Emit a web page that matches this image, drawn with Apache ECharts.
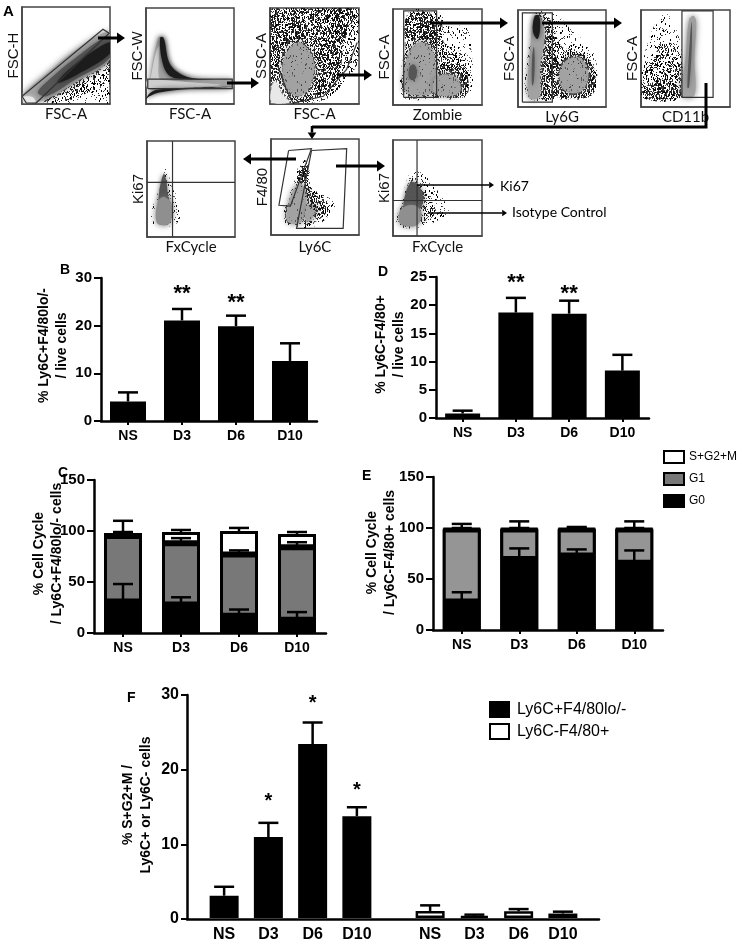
<!DOCTYPE html>
<html><head><meta charset="utf-8">
<script src="https://cdn.jsdelivr.net/npm/echarts@6/dist/echarts.min.js"></script>
<style>html,body{margin:0;padding:0;background:#fff}#c{width:750px;height:943px}</style>
</head><body><div id="c"></div>
<script>
// ---------- data: bar panels ----------
const days = ['NS','D3','D6','D10'];
const bValues = [4.1,21.1,19.9,12.6];
const bCaps   = [6.0,23.5,22.1,16.3];
const bStars  = ['','**','**',''];
const bStarY  = [0,27.3,25.4,0];
const dValues = [0.8,18.7,18.5,8.4];
const dCaps   = [1.3,21.3,20.8,11.2];
const dStars  = ['','**','**',''];
const dStarY  = [0,24.5,22.6,0];
const cG0 = [31,28,17,13];
const cG1 = [64,60,60,71];
const cS  = [3,11,23,13];
const cG0Caps = [48,35,23,20.5];
const cG1Caps = [99,93,81,89];
const cSCaps  = [110,101,103,99];
const eG0 = [28,69.5,73,66];
const eG1 = [70.5,29,25.5,32.5];
const eS  = [1,1,1,1];
const eG0Caps = [37,80,79,78];
const eG1Caps = [100,100,100,100];
const eSCaps  = [104,106.5,101,106.5];
const fBlack = [3.0,10.9,23.4,13.7];
const fBlackCaps = [4.2,12.8,26.3,14.9];
const fWhite = [0.95,0.25,0.9,0.6];
const fWhiteCaps = [1.7,0.45,1.2,0.85];
const fStars = ['','*','*','*'];
const fStarY = [0,16.1,29.2,17.6];

// ---------- data: flow panels (regions in % of each plot) ----------
const p1Regions = [
 ['s',[[24,2],[55,28],[100,60],[100,2]]],
 ['m',[[24,2],[60,22],[100,46],[100,26],[60,6],[36,2]]],
 ['h',[[0,8],[30,33],[60,55],[100,74],[100,46],[60,22],[28,5],[6,2]]],
 ['q',[[18,12],[32,26],[60,47],[100,70],[100,48],[60,25],[28,8]]],
 ['k',[[40,22],[62,42],[100,64],[100,52],[62,30]]],
 ['w',[[1,7],[12,7],[15,2],[4,1]]]
];
const p1Gates = [[[0,8],[92,77],[99,73],[16,1],[5,1],[0,8]]];
const p2Regions = [
 ['h',[[5,15],[5,28],[14,69],[20,69],[27,42],[42,30],[60,26],[98,25],[98,17],[46,16]]],
 ['l',[[5,20],[6,30],[11,52],[15,60],[14,30],[18,20]]],
 ['k',[[16,69],[20,69],[27,42],[42,30],[60,26],[80,25],[42,26],[26,30],[18,46]]],
 ['l',[[2,17],[2,25],[30,24],[60,22],[85,20],[60,18],[30,17]]],
 ['k',[[0,5],[4,11],[14,15],[50,17],[98,18],[50,15.5],[15,12],[4,8]]]
];
const p2Gates = [[[2,16],[98,16],[98,26],[2,26],[2,16]]];
const p3Regions = [
 ['m',[[1,2],[1,99],[99,99],[99,45],[88,28],[65,6],[40,1]]],
 ['d',[[2,8],[2,99],[92,99],[82,60],[78,32],[60,10],[36,2]]],
 ['d',[[3,10],[4,98],[48,98],[66,74],[70,34],[56,8],[30,2]]],
 ['h',[[18,18],[14,40],[22,58],[34,64],[46,52],[50,34],[42,14],[30,8]]],
 ['n',[[16,16],[12,40],[20,60],[34,66],[48,54],[52,34],[44,12],[30,6]]],
 ['w',[[2,2],[2,18],[6,24],[14,10],[22,2]]]
];
const p3Gates = [[[9,39],[18,16],[26,1],[60,8],[86,36],[98,64]]];
const p4Regions = [
 ['s',[[11,9],[60,8],[86,10],[90,30],[88,58],[84,82],[62,82],[52,96],[18,97],[13,60]]],
 ['m',[[13,10],[48,9],[80,10],[84,30],[78,52],[58,64],[52,92],[18,95],[14,60]]],
 ['d',[[15,66],[17,94],[48,92],[52,62],[30,70]]],
 ['d',[[48,9],[82,10],[84,30],[76,42],[54,40]]],
 ['h',[[14,14],[13,36],[20,58],[32,66],[44,58],[48,36],[46,14],[30,10]]],
 ['h',[[47,12],[46,26],[58,32],[72,28],[76,16],[68,10]]],
 ['n',[[13,12],[12,36],[20,60],[32,68],[46,60],[50,36],[48,12],[30,8]]],
 ['n',[[46,10],[45,26],[58,34],[72,30],[78,16],[68,8]]],
 ['q',[[18,28],[19,40],[24,42],[27,34],[24,26]]]
];
const p4Gates = [[[12,8],[49,8],[49,98],[12,98],[12,8]]];
const p5Regions = [
 ['s',[[12,10],[60,9],[85,14],[90,34],[84,60],[62,78],[45,94],[25,98],[12,60]]],
 ['m',[[18,10],[44,10],[84,12],[86,42],[70,58],[50,62],[35,92],[20,96]]],
 ['d',[[26,10],[44,10],[50,30],[42,56],[33,86],[28,50]]],
 ['d',[[44,12],[84,12],[84,44],[70,54],[52,50]]],
 ['h',[[12,10],[24,10],[25,40],[30,72],[26,92],[19,92],[14,60]]],
 ['h',[[50,20],[48,38],[58,50],[72,50],[80,34],[74,18],[62,14]]],
 ['n',[[48,18],[46,38],[58,52],[72,52],[82,34],[76,16],[62,12]]],
 ['q',[[16,50],[18,62],[19,50],[18,26],[16,22]]],
 ['k',[[17,78],[19,94],[24,94],[25,80],[22,70]]]
];
const p5Gates = [[[5,5],[39,5],[39,97],[5,97],[5,5]]];
const p6Regions = [
 ['s',[[1,10],[46,10],[46,55],[38,84],[28,96],[15,84],[3,50],[0,25]]],
 ['m',[[1,10],[46,10],[44,50],[33,66],[20,60],[4,35]]],
 ['d',[[1,10],[46,10],[44,22],[24,28],[4,20]]],
 ['h',[[46,12],[60,12],[60,50],[62,88],[59,94],[54,90],[50,50]]],
 ['q',[[52,20],[54,20],[57,60],[57,88],[55,70]]]
];
const p6Gates = [[[46,10],[81,10],[81,99],[46,99],[46,10]]];
const p7Regions = [
 ['s',[[8,13],[30,12],[38,22],[34,42],[28,52],[22,72],[15,52],[5,25]]],
 ['q',[[14,34],[14,48],[19,66],[22,58],[24,42],[27,32],[20,36]]],
 ['g',[[11,15],[12,36],[19,42],[28,34],[27,16],[20,12]]]
];
const p7Gates = [[[29,0],[29,100]],[[0,57],[100,57]]];
const p8Regions = [
 ['s',[[34,78],[44,74],[46,50],[70,36],[72,28],[52,10],[18,9],[12,18],[20,40],[28,60]]],
 ['m',[[36,76],[43,72],[44,50],[66,34],[66,26],[46,12],[20,12],[16,20],[26,50]]],
 ['h',[[18,15],[24,44],[33,54],[40,44],[38,22],[32,12]]],
 ['h',[[40,14],[40,30],[52,30],[46,16]]],
 ['n',[[16,13],[23,46],[33,56],[41,46],[54,32],[48,14],[32,10]]],
 ['d',[[36,72],[41,70],[42,50],[60,34],[62,28],[46,26],[38,50],[30,58]]]
];
const p8Gates = [[[20,88],[46,90],[22,30],[9,31],[20,88]],[[46,88],[86,90],[82,7],[29,7],[46,88]]];
const p9Regions = [
 ['s',[[5,11],[30,9],[62,24],[58,36],[46,52],[32,66],[20,66],[13,50],[7,30]]],
 ['m',[[8,14],[30,14],[48,24],[40,42],[30,58],[20,60],[14,44]]],
 ['q',[[12,30],[14,44],[20,56],[27,54],[34,42],[30,28],[18,26]]],
 ['g',[[7,14],[9,28],[24,32],[32,24],[28,12],[16,10]]]
];
const p9Gates = [[[27,0],[27,100]],[[0,37],[100,37]]];

// ---------- style helpers ----------
function stipple(count, colors, seed) {
  // fixed speckle texture for the flow-plot clouds
  let a = seed;
  function next() { a = (a + 0x6D2B79F5) | 0; let t = Math.imul(a ^ (a >>> 15), 1 | a); t = (t + Math.imul(t ^ (t >>> 7), 61 | t)) ^ t; return ((t ^ (t >>> 14)) >>> 0) / 4294967296; }
  const c = document.createElement('canvas'); c.width = c.height = 128;
  const g = c.getContext('2d');
  for (let i = 0; i < count; i++) {
    g.fillStyle = colors[i % colors.length];
    g.fillRect(Math.floor(next() * 128), Math.floor(next() * 128), 1, 1 + (i % 3 === 0 ? 1 : 0));
  }
  return { image: c, repeat: 'repeat' };
}
const fills = {
  s: { fill: stipple(1800, ['#000','#222','#555'], 11) },
  m: { fill: stipple(3800, ['#000','#333'], 23) },
  d: { fill: stipple(6000, ['#111','#333','#444'], 37) },
  n: { fill: stipple(1000, ['#555','#777','#333'], 51) },
  g: { fill: '#8f8f8f', shadowBlur: 6, shadowColor: '#777' },
  h: { fill: '#a2a2a2', shadowBlur: 6, shadowColor: '#777' },
  l: { fill: '#cfcfcf', shadowBlur: 2, shadowColor: '#bbb' },
  q: { fill: '#555', shadowBlur: 5, shadowColor: '#666' },
  k: { fill: '#1c1c1c', shadowBlur: 5, shadowColor: '#333' },
  w: { fill: '#e8e8e8', shadowBlur: 4, shadowColor: '#ddd' }
};
const BF = '"Liberation Sans",Arial,sans-serif';
const LF = 'Lato,"Liberation Sans",sans-serif';
const NF = '"Liberation Sans Narrow",Lato,"Liberation Sans",sans-serif';

const grids = [], xAxes = [], yAxes = [], series = [];
function addGrid(g, x, y) {
  const i = grids.length;
  grids.push(g);
  xAxes.push(Object.assign({ gridIndex: i }, x));
  yAxes.push(Object.assign({ gridIndex: i }, y));
  return i;
}

// ---------- flow panels ----------
function flow(box, regions, gates, xname, yname, ng) {
  const line = { show: true, onZero: false, lineStyle: { color: '#444', width: 1.5 } };
  const i = addGrid(
    { left: box[0], top: box[1], width: box[2], height: box[3], show: true, borderColor: '#444', borderWidth: 1.5, backgroundColor: '#fff' },
    { type: 'value', min: 0, max: 100, axisLine: line, axisTick: { show: false }, axisLabel: { show: false }, splitLine: { show: false },
      name: xname, nameLocation: 'middle', nameGap: ng[0], nameMoveOverlap: false, nameTextStyle: { color: '#111', fontFamily: NF, fontSize: 15 } },
    { type: 'value', min: 0, max: 100, axisLine: line, axisTick: { show: false }, axisLabel: { show: false }, splitLine: { show: false },
      name: yname, nameLocation: 'middle', nameGap: ng[1], nameMoveOverlap: false, nameTextStyle: { color: '#111', fontFamily: BF, fontSize: 15 } }
  );
  series.push({
    type: 'custom', xAxisIndex: i, yAxisIndex: i, data: [0], silent: true, clip: true,
    renderItem: function (p, api) {
      const kids = regions.map(function (r) {
        return { type: 'polygon', shape: { points: r[1].map(function (q) { return api.coord(q); }), smooth: 0.35 }, style: fills[r[0]] };
      });
      gates.forEach(function (g) {
        kids.push({ type: 'polyline', shape: { points: g.map(function (q) { return api.coord(q); }) }, style: { fill: 'none', stroke: '#333', lineWidth: 1.2 } });
      });
      return { type: 'group', children: kids };
    }
  });
}
flow([22,7,88,97], p1Regions, p1Gates, 'FSC-A', 'FSC-H', [3,1]);
flow([146,8,88,96], p2Regions, p2Gates, 'FSC-A', 'FSC-W', [3,1]);
flow([270,8,89,96], p3Regions, p3Gates, 'FSC-A', 'SSC-A', [3,1]);
flow([393,9,89,96], p4Regions, p4Gates, 'Zombie', 'FSC-A', [3,1]);
flow([518,10,88,97], p5Regions, p5Gates, 'Ly6G', 'FSC-A', [3,1]);
flow([641,10,89,97], p6Regions, p6Gates, 'CD11b', 'FSC-A', [3,1]);
flow([147,141,88,96], p7Regions, p7Gates, 'FxCycle', 'Ki67', [3,1]);
flow([271,139,88,96], p8Regions, p8Gates, 'Ly6C', 'F4/80', [5,1]);
flow([393,140,89,96], p9Regions, p9Gates, 'FxCycle', 'Ki67', [4,1]);

// ---------- bar panels ----------
function errSeries(i, base, caps, capHalf) {
  series.push({
    type: 'custom', xAxisIndex: i, yAxisIndex: i, silent: true, z: 5, clip: false,
    data: caps.map(function (c, k) { return [k, base[k], c]; }),
    encode: { x: 0, y: [1, 2] },
    renderItem: function (p, api) {
      const a = api.coord([api.value(0), api.value(1)]);
      const b = api.coord([api.value(0), api.value(2)]);
      const st = { stroke: '#000', lineWidth: 2.5, fill: 'none' };
      return { type: 'group', children: [
        { type: 'line', shape: { x1: a[0], y1: a[1], x2: b[0], y2: b[1] }, style: st },
        { type: 'line', shape: { x1: b[0] - capHalf, y1: b[1], x2: b[0] + capHalf, y2: b[1] }, style: st }
      ] };
    }
  });
}
function starSeries(i, stars, ys, size) {
  series.push({
    type: 'custom', xAxisIndex: i, yAxisIndex: i, silent: true, z: 6, clip: false,
    data: ys.map(function (v, k) { return [k, v]; }),
    renderItem: function (p, api) {
      const t = stars[p.dataIndex];
      if (!t) return null;
      const a = api.coord([api.value(0), api.value(1)]);
      return { type: 'text', x: a[0], y: a[1] + size * 0.15, style: { text: t, font: 'bold ' + size + 'px ' + BF, fill: '#000', align: 'center', verticalAlign: 'middle' } };
    }
  });
}
function barAxes(box, yMax, yInt, yName, nameGap, shift) {
  return addGrid(
    { left: box[0], top: box[1], width: box[2], height: box[3] },
    { type: 'category', data: days, axisLine: { onZero: false, lineStyle: { color: '#000', width: 2.5 } },
      axisTick: { show: true, alignWithLabel: true, length: 4, lineStyle: { color: '#000', width: 2 } },
      axisLabel: { color: '#000', fontFamily: BF, fontWeight: 'bold', fontSize: 14, margin: 8, interval: 0 } },
    { type: 'value', min: 0, max: yMax, interval: yInt, splitLine: { show: false },
      axisLine: { show: true, lineStyle: { color: '#000', width: 2.5 } },
      axisTick: { show: true, length: 7, lineStyle: { color: '#000', width: 2 } },
      axisLabel: { color: '#000', fontFamily: BF, fontWeight: 'bold', fontSize: 15, margin: 9 },
      name: yName, nameLocation: 'middle', nameGap: nameGap, nameMoveOverlap: false,
      nameTextStyle: { color: '#000', fontFamily: BF, fontWeight: 'bold', fontSize: 14, lineHeight: 18, padding: [0, 0, 0, shift] } }
  );
}
function add(a, b) { return a.map(function (v, k) { return v + b[k]; }); }

const iB = barAxes([101,278,216,143], 30, 10, '% Ly6C+F4/80lo/-\n/ live cells', 30, 8);
series.push({ type: 'bar', xAxisIndex: iB, yAxisIndex: iB, data: bValues, barWidth: 36, itemStyle: { color: '#000' } });
errSeries(iB, bValues, bCaps, 10); starSeries(iB, bStars, bStarY, 22);

const iD = barAxes([436,277,213,141], 25, 5, '% Ly6C-F4/80+\n/ live cells', 28, 6);
series.push({ type: 'bar', xAxisIndex: iD, yAxisIndex: iD, data: dValues, barWidth: 35, itemStyle: { color: '#000' } });
errSeries(iD, dValues, dCaps, 10); starSeries(iD, dStars, dStarY, 22);

function stackPanel(box, yName, gap, shift, g0, g1, s, cap0, cap1, capS, key, gray) {
  const i = barAxes(box, 150, 50, yName, gap, shift);
  const bw = 38;
  const t1 = add(g0, g1), t2 = add(t1, s);
  // solid backing keeps the stacked segments free of hairline seams
  series.push({ type: 'bar', xAxisIndex: i, yAxisIndex: i, data: t2, barWidth: bw, barGap: '-100%', silent: true, z: 1, itemStyle: { color: '#000' } });
  series.push({ name: 'G0', type: 'bar', stack: key, xAxisIndex: i, yAxisIndex: i, data: g0, barWidth: bw, barGap: '-100%', z: 2, itemStyle: { color: '#000', borderColor: '#000', borderWidth: 3 } });
  series.push({ name: 'G1', type: 'bar', stack: key, xAxisIndex: i, yAxisIndex: i, data: g1, barWidth: bw, barGap: '-100%', z: 2, itemStyle: { color: gray, borderColor: '#000', borderWidth: 3 } });
  series.push({ name: 'S+G2+M', type: 'bar', stack: key, xAxisIndex: i, yAxisIndex: i, data: s, barWidth: bw, barGap: '-100%', z: 2, itemStyle: { color: '#fff', borderColor: '#000', borderWidth: 3 } });
  errSeries(i, g0, cap0, 10);
  errSeries(i, t1, cap1, 10);
  errSeries(i, t2, capS, 10);
}
stackPanel([94,480,232,153], '% Cell Cycle\n/ Ly6C+F4/80lo/- cells', 28, 6, cG0, cG1, cS, cG0Caps, cG1Caps, cSCaps, 'c', '#787878');
stackPanel([433,477,230,153], '% Cell Cycle\n/ Ly6C-F4/80+ cells', 34, 2, eG0, eG1, eS, eG0Caps, eG1Caps, eSCaps, 'e', '#959595');

// panel F: shared axis plus two groups of categories
const iF = addGrid({ left: 187, top: 695, width: 412, height: 224 },
  { type: 'value', min: 0, max: 1, axisLabel: { show: false }, axisTick: { show: false }, splitLine: { show: false },
    axisLine: { onZero: false, lineStyle: { color: '#000', width: 2.5 } } },
  { type: 'value', min: 0, max: 30, interval: 10, splitLine: { show: false },
    axisLine: { show: true, lineStyle: { color: '#000', width: 2.5 } },
    axisTick: { show: true, length: 6, lineStyle: { color: '#000', width: 2 } },
    axisLabel: { color: '#000', fontFamily: BF, fontWeight: 'bold', fontSize: 16, margin: 8 },
    name: '% S+G2+M /\nLy6C+ or Ly6C- cells', nameLocation: 'middle', nameGap: 32, nameMoveOverlap: false,
    nameTextStyle: { color: '#000', fontFamily: BF, fontWeight: 'bold', fontSize: 14, lineHeight: 18, padding: [0, 0, 0, 4] } });
function fGroup(left, name, vals, caps, color) {
  const i = addGrid({ left: left, top: 695, width: 177, height: 224 },
    { type: 'category', data: days, axisLine: { show: false }, axisTick: { show: false },
      axisLabel: { color: '#000', fontFamily: BF, fontWeight: 'bold', fontSize: 16, margin: 9, interval: 0 } },
    { type: 'value', min: 0, max: 30, show: false });
  series.push({ name: name, type: 'bar', xAxisIndex: i, yAxisIndex: i, data: vals, barWidth: 29, itemStyle: { color: color, borderColor: '#000', borderWidth: 2.5 } });
  errSeries(i, vals, caps, 10);
  return i;
}
const iF1 = fGroup(202, 'Ly6C+F4/80lo/-', fBlack, fBlackCaps, '#000');
fGroup(408, 'Ly6C-F4/80+', fWhite, fWhiteCaps, '#fff');
starSeries(iF1, fStars, fStarY, 20);

// ---------- annotations ----------
function arrow(x1, y1, x2, y2, w, h) {
  const dx = Math.sign(x2 - x1), dy = Math.sign(y2 - y1);
  const len = h * 1.6, half = h * 1.1;
  const px = dx ? x2 - dx * len : x2, py = dy ? y2 - dy * len : y2;
  return [
    { type: 'line', shape: { x1: x1, y1: y1, x2: px, y2: py }, style: { stroke: '#000', lineWidth: w } },
    { type: 'polygon', shape: { points: dx ? [[x2, y2], [px, y2 - half], [px, y2 + half]] : [[x2, y2], [x2 - half, py], [x2 + half, py]] }, style: { fill: '#000' } }
  ];
}
function label(t, x, y, font) {
  return { type: 'text', x: x, y: y, style: { text: t, font: font, fill: '#000', align: 'left', verticalAlign: 'middle' } };
}
const BL = 'bold 14px ' + BF;
const overlay = [].concat(
  arrow(98,38,125,38,3,5), arrow(227,83,259,83,3,5), arrow(337,75,372,75,3,5),
  arrow(430,23,508,23,3,5), arrow(542,23,622,23,3,5),
  [{ type: 'polyline', shape: { points: [[706,83],[706,127],[312,127]] }, style: { stroke: '#000', lineWidth: 3, fill: 'none' } }],
  arrow(312,126,312,139,2.5,4),
  arrow(296,159,243,159,3,5), arrow(336,166,385,166,3,5),
  arrow(417,185,494,185,1.5,3), arrow(428,213,507,213,1.5,3),
  [label('Ki67',500,186,'14px ' + LF), label('Isotype Control',512,212,'14px ' + LF),
   label('A',3,12,'bold 15px ' + BF), label('B',60,270,BL), label('D',378,272,BL),
   label('C',58,473,BL), label('E',362,476,BL), label('F',127,698,BL)]
);

const chart = echarts.init(document.getElementById('c'), null, { renderer: 'canvas' });
chart.setOption({
  animation: false, backgroundColor: '#fff',
  grid: grids, xAxis: xAxes, yAxis: yAxes, series: series,
  legend: [
    { orient: 'vertical', left: 658, top: 445, itemWidth: 20, itemHeight: 12, itemGap: 8, selectedMode: false, icon: 'rect',
      data: ['S+G2+M','G1','G0'], textStyle: { color: '#000', fontFamily: BF, fontSize: 12 } },
    { orient: 'vertical', left: 484, top: 696, itemWidth: 19, itemHeight: 15, itemGap: 5, selectedMode: false, icon: 'rect',
      data: ['Ly6C+F4/80lo/-','Ly6C-F4/80+'], textStyle: { color: '#000', fontFamily: BF, fontSize: 16, padding: [0, 0, 0, 3] } }
  ],
  graphic: { elements: overlay.map(function (e) { return Object.assign({ silent: true, z: 20 }, e.type === 'text' ? { type: 'text', x: e.x, y: e.y, style: Object.assign({}, e.style) } : e); }) }
});
</script></body></html>
